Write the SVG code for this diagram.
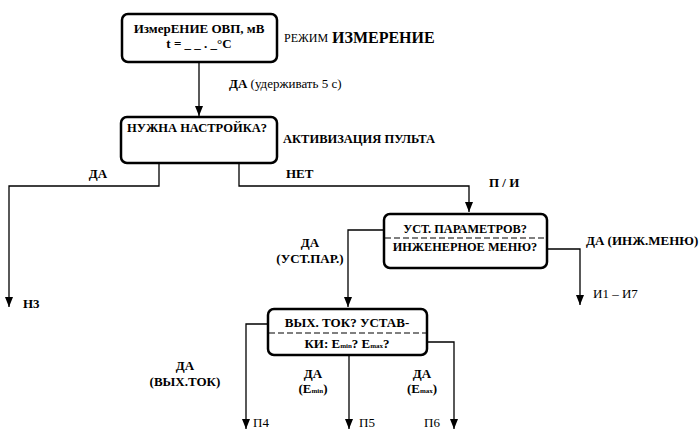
<svg xmlns="http://www.w3.org/2000/svg" width="700" height="446" viewBox="0 0 700 446">
<style>
text{font-family:"Times New Roman","Liberation Serif","DejaVu Serif",serif;font-size:13px;fill:#000}
.box{fill:#fff;stroke:#000;stroke-width:2.5}
.ln{fill:none;stroke:#000;stroke-width:1.3}
.dash{stroke:#000;stroke-width:1.2;stroke-dasharray:6,3}
.b{font-weight:bold}
.c{text-anchor:middle}
.s{font-size:7px}
.m{font-size:12.3px}
</style>
<rect width="700" height="446" fill="#fff"/>
<g id="connectors">
<path class="ln" d="M199,62 V116"/>
<path d="M195,106 L203,106 L199,116 Z"/>
<path class="ln" d="M159,163 V186 H9 V307"/>
<path d="M5,297 L13,297 L9,307 Z"/>
<path class="ln" d="M239,163 V186 H469 V212"/>
<path d="M465,202 L473,202 L469,212 Z"/>
<path class="ln" d="M384,230 H348 V307"/>
<path d="M344,297 L352,297 L348,307 Z"/>
<path class="ln" d="M547,249 H580 V305"/>
<path d="M576,295 L584,295 L580,305 Z"/>
<path class="ln" d="M268,324 H246 V429"/>
<path d="M242,419 L250,419 L246,429 Z"/>
<path class="ln" d="M349,355 V429"/>
<path d="M345,419 L353,419 L349,429 Z"/>
<path class="ln" d="M427,342 H454 V429"/>
<path d="M450,419 L458,419 L454,429 Z"/>
</g>
<g id="n1">
<rect class="box" x="122" y="14" width="155" height="48" rx="6"/>
<text class="b c" x="199" y="33">ИзмерЕНИЕ ОВП, мВ</text>
<text class="b c" x="199" y="48">t = _ _ . _°C</text>
</g>
<g id="lbl-mode">
<text x="284" y="42" style="font-size:12px">РЕЖИМ</text>
<text class="b" x="332" y="43" style="font-size:16px">ИЗМЕРЕНИЕ</text>
</g>
<text x="229" y="88"><tspan class="b">ДА</tspan> (удерживать 5 с)</text>
<g id="n2">
<rect class="box" x="121" y="117" width="156" height="46" rx="6"/>
<text class="b" x="127" y="132" style="font-size:12.5px">НУЖНА НАСТРОЙКА?</text>
</g>
<text class="b" x="283" y="143" style="font-size:12.5px">АКТИВИЗАЦИЯ ПУЛЬТА</text>
<text class="b" x="286" y="178">НЕТ</text>
<text class="b c" x="98" y="178">ДА</text>
<text class="b" x="23" y="308">Н3</text>
<text class="b" x="489" y="187">П / И</text>
<g id="n3">
<rect class="box" x="384" y="214" width="163" height="54" rx="6"/>
<text class="b c m" x="465" y="233">УСТ. ПАРАМЕТРОВ?</text>
<line class="dash" x1="385" y1="238" x2="546" y2="238"/>
<text class="b c m" x="465" y="251">ИНЖЕНЕРНОЕ МЕНЮ?</text>
</g>
<text class="b c" x="310" y="247">ДА</text>
<text class="b c" x="310" y="263">(УСТ.ПАР.)</text>
<text class="b" x="586" y="245">ДА (ИНЖ.МЕНЮ)</text>
<text x="593" y="298">И1 – И7</text>
<g id="n4">
<rect class="box" x="268" y="309" width="159" height="46" rx="6"/>
<text class="b c" x="347" y="327">ВЫХ. ТОК? УСТАВ-</text>
<line class="dash" x1="269" y1="333" x2="426" y2="333"/>
<text class="b c" x="347" y="348">КИ: E<tspan class="s">min</tspan>? E<tspan class="s">max</tspan>?</text>
</g>
<text class="b c" x="185" y="370">ДА</text>
<text class="b c" x="185" y="386">(ВЫХ.ТОК)</text>
<text class="b c" x="313" y="378">ДА</text>
<text class="b c" x="313" y="393">(E<tspan class="s">min</tspan>)</text>
<text class="b c" x="422" y="378">ДА</text>
<text class="b c" x="422" y="393">(E<tspan class="s">max</tspan>)</text>
<text x="253" y="427">П4</text>
<text x="359" y="427">П5</text>
<text x="424" y="427">П6</text>
</svg>
